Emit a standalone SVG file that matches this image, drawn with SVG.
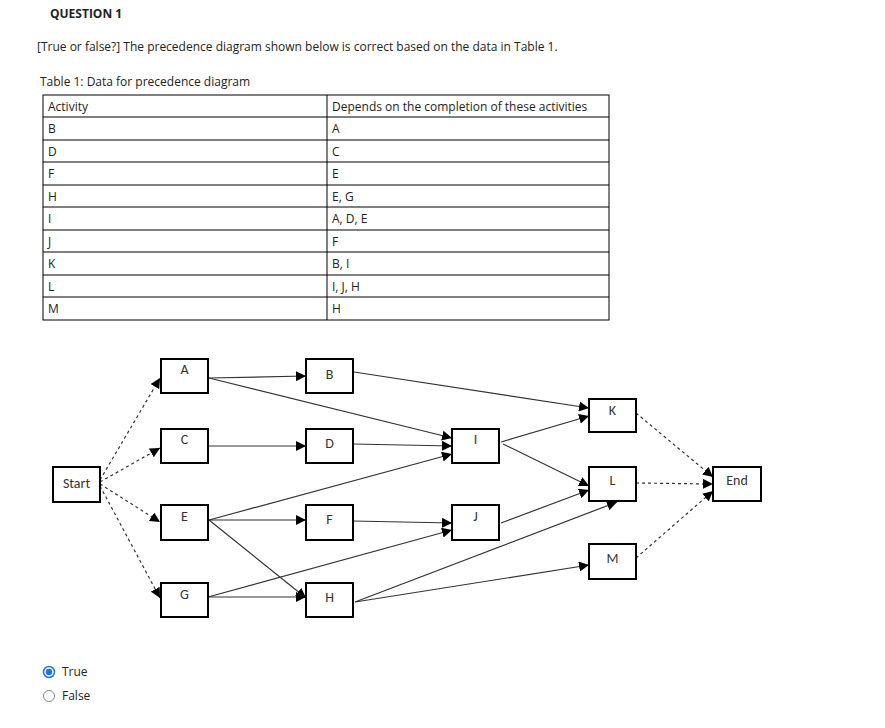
<svg xmlns="http://www.w3.org/2000/svg" width="885" height="728" viewBox="0 0 885 728">
<defs>
<marker id="ah" viewBox="0 0 10 10" refX="10" refY="5" markerWidth="10" markerHeight="10" markerUnits="userSpaceOnUse" orient="auto"><path d="M0,0 L10,5 L0,10 z" fill="#000"/></marker>
<style>
text{font-family:"Open Sans","Noto Sans","Liberation Sans",sans-serif;font-size:12px;fill:#222}
.n rect{fill:#fff;stroke:#000;stroke-width:2}
.n text{font-family:Calibri,"Liberation Sans",sans-serif;font-size:14px;text-anchor:middle;fill:#333}
.e line{stroke:#333;stroke-width:1.2;marker-end:url(#ah)}
.e line.d{stroke-dasharray:3,3}
.t line{stroke:#000;stroke-width:1}
</style>
</defs>
<rect width="885" height="728" fill="#fff"/>
<text x="50" y="18" style="font-weight:bold;font-size:12px">QUESTION 1</text>
<text x="37" y="51">[True or false?] The precedence diagram shown below is correct based on the data in Table 1.</text>
<text x="40" y="86">Table 1: Data for precedence diagram</text>
<g class="t">
<rect x="43" y="95" width="566" height="225" fill="none" stroke="#000"/>
<line x1="327" y1="95" x2="327" y2="320"/>
<line x1="43" y1="117" x2="609" y2="117"/><line x1="43" y1="140" x2="609" y2="140"/><line x1="43" y1="162" x2="609" y2="162"/><line x1="43" y1="185" x2="609" y2="185"/><line x1="43" y1="207" x2="609" y2="207"/><line x1="43" y1="230" x2="609" y2="230"/><line x1="43" y1="252" x2="609" y2="252"/><line x1="43" y1="275" x2="609" y2="275"/><line x1="43" y1="297" x2="609" y2="297"/>
</g>
<g font-size="11">
<text x="48" y="111" font-size="11">Activity</text><text x="332" y="111" font-size="11">Depends on the completion of these activities</text>
<text x="48" y="133">B</text><text x="332" y="133">A</text>
<text x="48" y="156">D</text><text x="332" y="156">C</text>
<text x="48" y="178">F</text><text x="332" y="178">E</text>
<text x="48" y="201">H</text><text x="332" y="201">E, G</text>
<text x="48" y="223">I</text><text x="332" y="223">A, D, E</text>
<text x="48" y="246">J</text><text x="332" y="246">F</text>
<text x="48" y="268">K</text><text x="332" y="268">B, I</text>
<text x="48" y="291">L</text><text x="332" y="291">I, J, H</text>
<text x="48" y="313">M</text><text x="332" y="313">H</text>
</g>
<g class="e">
<line class="d" x1="100" y1="480" x2="160" y2="378"/>
<line class="d" x1="100" y1="482" x2="160" y2="448"/>
<line class="d" x1="100" y1="484" x2="160" y2="522"/>
<line class="d" x1="100" y1="486" x2="160" y2="598"/>
<line x1="209" y1="378" x2="306" y2="376"/>
<line x1="209" y1="378" x2="452" y2="438"/>
<line x1="354" y1="372" x2="589" y2="408"/>
<line x1="208" y1="446" x2="306" y2="446"/>
<line x1="353" y1="444" x2="452" y2="446"/>
<line x1="209" y1="520" x2="452" y2="454"/>
<line x1="209" y1="520" x2="306" y2="520"/>
<line x1="209" y1="520" x2="306" y2="598"/>
<line x1="353" y1="521" x2="452" y2="523"/>
<line x1="208" y1="597" x2="452" y2="530"/>
<line x1="208" y1="597" x2="306" y2="597"/>
<line x1="355" y1="602" x2="617" y2="502"/>
<line x1="355" y1="602" x2="589" y2="565"/>
<line x1="501" y1="442" x2="589" y2="416"/>
<line x1="503" y1="444" x2="589" y2="486"/>
<line x1="501" y1="523" x2="589" y2="490"/>
<line class="d" x1="636" y1="413" x2="713" y2="477"/>
<line class="d" x1="636" y1="483" x2="713" y2="484"/>
<line class="d" x1="636" y1="558" x2="713" y2="491"/>
</g>
<g id="start" class="n"><rect x="53" y="467" width="47" height="35"/><text x="76.5" y="485" dominant-baseline="middle">Start</text></g>
<g id="A" class="n"><rect x="161" y="359" width="47" height="34"/><text x="184.5" y="374">A</text></g>
<g id="C" class="n"><rect x="161" y="429" width="47" height="34"/><text x="184.5" y="444">C</text></g>
<g id="E" class="n"><rect x="161" y="505" width="47" height="35"/><text x="184.5" y="521">E</text></g>
<g id="G" class="n"><rect x="161" y="583" width="47" height="34"/><text x="184.5" y="599">G</text></g>
<g id="B" class="n"><rect x="306" y="359" width="47" height="34"/><text x="329.5" y="379">B</text></g>
<g id="D" class="n"><rect x="306" y="429" width="47" height="34"/><text x="329.5" y="448">D</text></g>
<g id="F" class="n"><rect x="306" y="505" width="47" height="35"/><text x="329.5" y="524">F</text></g>
<g id="H" class="n"><rect x="306" y="583" width="47" height="34"/><text x="329.5" y="602">H</text></g>
<g id="I" class="n"><rect x="452" y="429" width="47" height="34"/><text x="475.5" y="444">I</text></g>
<g id="J" class="n"><rect x="452" y="505" width="47" height="35"/><text x="475.5" y="521">J</text></g>
<g id="K" class="n"><rect x="589" y="399" width="47" height="33"/><text x="612.5" y="415">K</text></g>
<g id="L" class="n"><rect x="589" y="467" width="47" height="34"/><text x="612.5" y="485">L</text></g>
<g id="M" class="n"><rect x="589" y="544" width="47" height="35"/><text x="612.5" y="563">M</text></g>
<g id="end" class="n"><rect x="713" y="467" width="48" height="34"/><text x="737" y="485">End</text></g>
<circle cx="49" cy="672" r="5.5" fill="#fff" stroke="#1a73e8" stroke-width="1.5"/><circle cx="49" cy="672" r="3.2" fill="#1a73e8"/>
<circle cx="49" cy="696" r="5.5" fill="#fff" stroke="#888" stroke-width="1"/>
<text x="62" y="676">True</text><text x="62" y="700">False</text>
</svg>
